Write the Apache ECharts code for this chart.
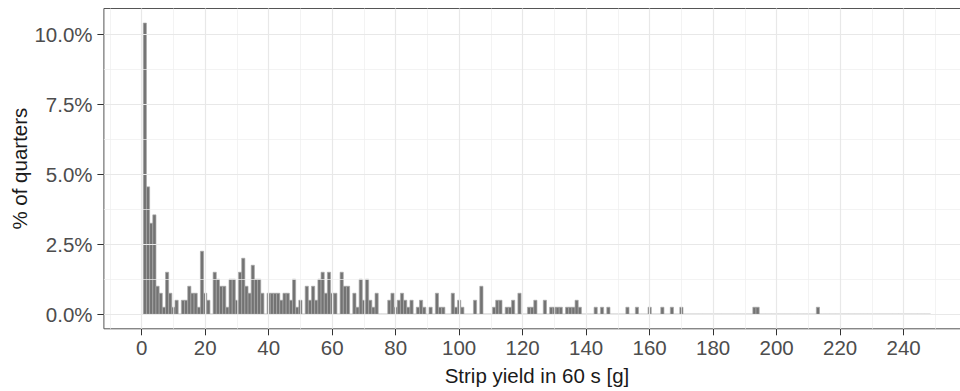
<!DOCTYPE html>
<html>
<head>
<meta charset="utf-8">
<script src="https://cdn.jsdelivr.net/npm/echarts@6/dist/echarts.min.js"></script>
<style>
  html, body { margin: 0; padding: 0; background: #ffffff; overflow: hidden; }
  #chart { width: 960px; height: 391px; }
</style>
</head>
<body>
<div id="chart"></div>
<script>
// ---- data (histogram, bin width 1 g, bins centred on 1, 2, ..., 248) ----
const firstBinCenter = 1;
const binWidth = 1;
const percentOfQuarters = [
  10.4, 4.55, 3.25, 3.55, 1.0, 0.75, 0.25, 1.5, 0.75, 0.25,   // 1-10
  0.5, 0, 0.5, 0.5, 1.0, 0.75, 0.75, 0.25, 2.25, 0.75,        // 11-20
  0.5, 0, 1.5, 1.25, 1.0, 1.0, 0.25, 1.25, 1.25, 0.5,         // 21-30
  1.5, 2.0, 1.0, 0.75, 1.75, 1.25, 1.25, 0.75, 0, 0.75,       // 31-40
  0.75, 0.75, 0.75, 0.5, 0.75, 0.75, 0.5, 1.25, 0.25, 0.5,    // 41-50
  0, 1.0, 0.5, 1.0, 0.5, 1.25, 1.5, 0.75, 1.5, 0.75,          // 51-60
  0.75, 0, 1.5, 1.0, 1.0, 0, 0.75, 0.25, 1.25, 0.5,           // 61-70
  1.25, 0.5, 0.25, 0.75, 0, 0, 0, 0.5, 0.75, 0.25,            // 71-80
  0.5, 0.75, 0.5, 0.25, 0.5, 0, 0.25, 0.5, 0.25, 0,           // 81-90
  0.25, 0, 0.75, 0.25, 0.25, 0, 0, 0.75, 0.25, 0.5,           // 91-100
  0.25, 0, 0, 0, 0.5, 0, 1.0, 0, 0, 0,                        // 101-110
  0.25, 0.5, 0.5, 0, 0.25, 0.25, 0.5, 0, 0.75, 0,             // 111-120
  0, 0.25, 0.25, 0.5, 0, 0, 0.5, 0, 0.25, 0.25,               // 121-130
  0.25, 0.25, 0, 0.25, 0.25, 0.25, 0.5, 0.25, 0, 0,           // 131-140
  0, 0, 0.25, 0, 0.25, 0, 0.25, 0, 0, 0,                      // 141-150
  0, 0, 0.25, 0, 0, 0.25, 0, 0, 0, 0.25,                      // 151-160
  0, 0, 0, 0.25, 0, 0, 0.25, 0, 0, 0.25,                      // 161-170
  0, 0, 0, 0, 0, 0, 0, 0, 0, 0,                               // 171-180
  0, 0, 0, 0, 0, 0, 0, 0, 0, 0,                               // 181-190
  0, 0, 0.25, 0.25, 0, 0, 0, 0, 0, 0,                         // 191-200
  0, 0, 0, 0, 0, 0, 0, 0, 0, 0,                               // 201-210
  0, 0, 0.25, 0, 0, 0, 0, 0, 0, 0,                            // 211-220
  0, 0, 0, 0, 0, 0, 0, 0, 0, 0,                               // 221-230
  0, 0, 0, 0, 0, 0, 0, 0, 0, 0,                               // 231-240
  0, 0, 0, 0, 0, 0, 0, 0                                      // 241-248
];

// axis breaks / tick labels
const xTickValues = [0, 20, 40, 60, 80, 100, 120, 140, 160, 180, 200, 220, 240];
const xMajorGrid = [0, 20, 40, 60, 80, 100, 120, 140, 160, 180, 200, 220, 240, 260];
const xMinorGrid = [-10, 10, 30, 50, 70, 90, 110, 130, 150, 170, 190, 210, 230, 250];
const yTickValues = [0, 2.5, 5, 7.5, 10];
const yTickLabels = ['0.0%', '2.5%', '5.0%', '7.5%', '10.0%'];
const yMinorGrid = [1.25, 3.75, 6.25, 8.75];

const xTitle = 'Strip yield in 60 s [g]';
const yTitle = '% of quarters';

// ---- build chart ----
const histData = percentOfQuarters.map((v, i) => [firstBinCenter + i * binWidth, v]);
const FONT = '"Liberation Sans", Arial, sans-serif';

const chart = echarts.init(document.getElementById('chart'), null, { renderer: 'svg' });

chart.setOption({
  animation: false,
  backgroundColor: '#ffffff',
  grid: {
    left: 103.9, right: -10, top: 8.5, bottom: 62.2,
    containLabel: false, outerBoundsMode: 'none',
    show: true, borderColor: '#555555', borderWidth: 1, backgroundColor: 'transparent'
  },
  xAxis: {
    type: 'value', min: -11.9, max: 260.9,
    axisLine: { show: false, onZero: false },
    axisTick: { show: true, customValues: xTickValues, length: 6.5, lineStyle: { color: '#333333', width: 1 } },
    axisLabel: { customValues: xTickValues, fontSize: 20.5, color: '#4d4d4d', margin: 8, fontFamily: FONT },
    splitLine: { show: false },
    name: xTitle, nameLocation: 'middle', nameGap: 36, nameMoveOverlap: false,
    nameTextStyle: { fontSize: 20.5, color: '#1a1a1a', fontFamily: FONT }
  },
  yAxis: {
    type: 'value', min: -0.52, max: 10.92,
    axisLine: { show: false, onZero: false },
    axisTick: { show: true, customValues: yTickValues, length: 6.5, lineStyle: { color: '#333333', width: 1 } },
    axisLabel: {
      customValues: yTickValues, fontSize: 20.5, color: '#4d4d4d', margin: 11.3, fontFamily: FONT,
      formatter: function (v) { const i = yTickValues.indexOf(v); return i >= 0 ? yTickLabels[i] : ''; }
    },
    splitLine: { show: false },
    name: yTitle, nameLocation: 'middle', nameGap: 74, nameMoveOverlap: false,
    nameTextStyle: { fontSize: 20.5, color: '#1a1a1a', fontFamily: FONT }
  },
  series: [
    {
      type: 'line', data: [], z: 1, silent: true,
      markLine: {
        silent: true, symbol: 'none', label: { show: false },
        lineStyle: { color: '#eeeeee', width: 0.7, type: 'solid' },
        data: xMinorGrid.map(v => ({ xAxis: v })).concat(yMinorGrid.map(v => ({ yAxis: v })))
      }
    },
    {
      type: 'line', data: [], z: 1, silent: true,
      markLine: {
        silent: true, symbol: 'none', label: { show: false },
        lineStyle: { color: '#e8e8e8', width: 1.2, type: 'solid' },
        data: xMajorGrid.map(v => ({ xAxis: v })).concat(yTickValues.map(v => ({ yAxis: v })))
      }
    },
    {
      type: 'custom', z: 3, silent: true,
      data: histData,
      renderItem: function (params, api) {
        const x = api.value(0), y = api.value(1);
        const pTop = api.coord([x - binWidth / 2, y]);
        const pBot = api.coord([x + binWidth / 2, 0]);
        return {
          type: 'rect',
          shape: { x: pTop[0], y: pTop[1], width: pBot[0] - pTop[0], height: pBot[1] - pTop[1] },
          style: { fill: '#737373', stroke: '#a8a8a8', lineWidth: 0.7 }
        };
      }
    }
  ]
});
</script>
</body>
</html>
